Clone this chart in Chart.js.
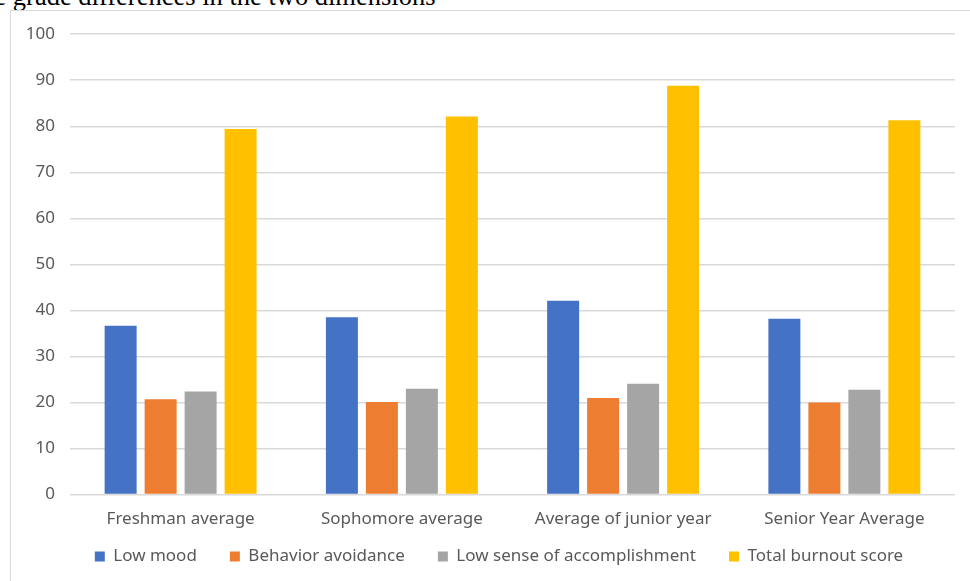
<!DOCTYPE html>
<html>
<head>
<meta charset="utf-8">
<script src="https://cdn.jsdelivr.net/npm/chart.js@4.4.0/dist/chart.umd.min.js"></script>
<style>
    html, body { margin: 0; padding: 0; background: #fff; overflow: hidden; }
    body { width: 970px; height: 581px; position: relative; }
    .caption {
        position: absolute; left: -35px; top: -19px;
        font-family: "Liberation Serif", "Times New Roman", serif;
        font-size: 26.5px; color: #000; white-space: nowrap;
    }
    .frame {
        position: absolute; left: 10px; top: 10px;
        width: 980px; height: 600px;
        border: 1.5px solid #d9d9d9; box-sizing: border-box;
    }
    .chart-wrap { position: absolute; left: 11px; top: 9px; width: 959px; height: 572px; }
</style>
</head>
<body>
<div class="caption">The grade differences in the two dimensions</div>
<div class="frame"></div>
<div class="chart-wrap"><canvas id="burnoutChart"></canvas></div>
<script>
    // grades on the x axis
    const grades = ['Freshman average', 'Sophomore average', 'Average of junior year', 'Senior Year Average'];

    // series values
    const lowMood = [36.7, 38.5, 42.1, 38.2];
    const behaviorAvoidance = [20.7, 20.1, 21.0, 20.0];
    const lowAccomplishment = [22.4, 23.0, 24.1, 22.8];
    const totalBurnout = [79.4, 82.1, 88.8, 81.3];

    const yTicks = [0, 10, 20, 30, 40, 50, 60, 70, 80, 90, 100];

    const font = { family: '"Noto Sans", "Open Sans", sans-serif', size: 17 };
    const textColor = '#595959';

    function bars(label, data, color) {
        return {
            label: label,
            data: data,
            backgroundColor: color,
            borderWidth: 0,
            barPercentage: 0.8,
            categoryPercentage: 0.723,
        };
    }

    // pull the legend row up closer to the category labels, like the original
    const legendNudge = {
        id: 'legendNudge',
        afterLayout(chart) {
            chart.legend.top -= 20;
            chart.legend.bottom -= 20;
            chart.legend.left += 16;
            chart.legend.right += 16;
        }
    };

    new Chart(document.getElementById('burnoutChart'), {
        type: 'bar',
        data: {
            labels: grades,
            datasets: [
                bars('Low mood', lowMood, '#4472C4'),
                bars('Behavior avoidance', behaviorAvoidance, '#ED7D31'),
                bars('Low sense of accomplishment', lowAccomplishment, '#A5A5A5'),
                bars('Total burnout score', totalBurnout, '#FFC000'),
            ]
        },
        plugins: [legendNudge],
        options: {
            responsive: true,
            maintainAspectRatio: false,
            animation: false,
            layout: { padding: { top: 8, right: 15, bottom: -14, left: 0 } },
            scales: {
                x: {
                    grid: { display: false },
                    border: { display: false },
                    ticks: { color: textColor, font: font, padding: 6, maxRotation: 0 }
                },
                y: {
                    min: 0,
                    max: 100,
                    afterBuildTicks: axis => { axis.ticks = yTicks.map(v => ({ value: v })); },
                    afterFit: axis => { axis.width = 59; },
                    grid: { color: '#d9d9d9', lineWidth: 1.5, drawTicks: false },
                    border: { display: false },
                    ticks: { color: textColor, font: font, padding: 15 }
                }
            },
            plugins: {
                legend: {
                    position: 'bottom',
                    labels: { color: textColor, font: font, boxWidth: 10, boxHeight: 10, padding: 33 }
                },
                tooltip: { enabled: false }
            }
        }
    });
</script>
</body>
</html>
